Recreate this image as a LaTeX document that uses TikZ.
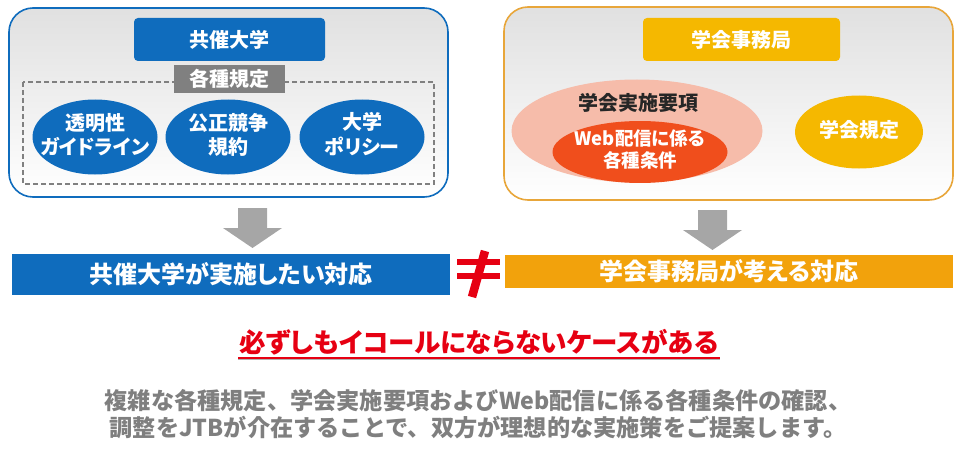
\documentclass[tikz,border=0pt]{standalone}
\usepackage{fontspec}
\setmainfont{Noto Sans CJK JP}[RawFeature=+palt]
\newfontfamily\plainjp{Noto Sans CJK JP}
\usetikzlibrary{shapes.geometric}

\definecolor{uniblue}{HTML}{0F6CBD}
\definecolor{socorange}{HTML}{E8A63A}
\definecolor{socyellow}{HTML}{F5B800}
\definecolor{socbar}{HTML}{F2A20C}
\definecolor{salmon}{HTML}{F6BCAA}
\definecolor{webred}{HTML}{F04E1C}
\definecolor{boxgray}{HTML}{808080}
\definecolor{arrowgray}{HTML}{A6A6A6}
\definecolor{neqred}{HTML}{E60012}
\definecolor{textgray}{HTML}{7F7F7F}

\newcommand{\ovaltext}[1]{\makebox[0pt]{\begin{tabular}{@{}c@{}}#1\end{tabular}}}

\begin{document}
\begin{tikzpicture}[x=1pt,y=-1pt,
	every node/.style={font=\bfseries\fontsize{20}{23}\selectfont, align=center, inner sep=0pt},
	panel/.style={rounded corners=24pt, line width=1.6pt, top color=black!12, bottom color=white},
	headbox/.style={rounded corners=4pt, text=white, minimum height=43pt},
	oval/.style={ellipse, text=white},
	bar/.style={text=white, font=\bfseries\fontsize{24}{28}\selectfont}]
			\useasboundingbox (0,0) rectangle (959,452);
			
			% university side
			\draw[panel, draw=uniblue] (9,8) rectangle (448,197);
			\node[headbox, fill=uniblue, minimum width=191pt] (unititle) at (229.5,39.5) {共催大学};
			\draw[black!50, line width=1.3pt, dash pattern=on 5pt off 3pt] (23,82) rectangle (434,184);
			\node[fill=boxgray, text=white, minimum width=111pt, minimum height=28pt] (rules) at (229.5,79) {各種規定};
			\node[oval, fill=uniblue, minimum width=125pt, minimum height=75pt] (transp) at (95,137) {\ovaltext{透明性\\ガイドライン}};
			\node[oval, fill=uniblue, minimum width=125pt, minimum height=75pt] (fair) at (228,137) {\ovaltext{公正競争\\規約}};
			\node[oval, fill=uniblue, minimum width=125pt, minimum height=75pt] (policy) at (362,137) {\ovaltext{大学\\ポリシー}};
			
			% society side
			\draw[panel, draw=socorange] (504,7) rectangle (953,200);
			\node[headbox, fill=socyellow, minimum width=197pt] (soctitle) at (741.5,39.5) {学会事務局};
			\node[ellipse, fill=salmon, minimum width=251pt, minimum height=103pt] (guide) at (637,131) {};
			\node[text=black!85] (guidelabel) at (638,103) {学会実施要項};
			\node[oval, fill=webred, minimum width=175pt, minimum height=59pt, font=\bfseries\fontsize{18.5}{20}\selectfont] (webcond) at (640,152) {\ovaltext{Web配信に係る\\各種条件}};
			\node[oval, fill=socyellow, minimum width=128pt, minimum height=73pt] (socrules) at (859,132) {\ovaltext{学会規定}};
			
			% arrows
			\foreach \cx/\ty in {252.5/208, 712.5/210}
				\fill[arrowgray] (\cx-14.5,\ty) -- (\cx+14.5,\ty) -- (\cx+14.5,\ty+20) -- (\cx+29.5,\ty+20)
					-- (\cx,\ty+40) -- (\cx-29.5,\ty+20) -- (\cx-14.5,\ty+20) -- cycle;
			
			% result bars
			\node[bar, fill=uniblue, minimum width=438pt, minimum height=41pt] (unibar) at (231,274.5) {共催大学が実施したい対応};
			\node[bar, fill=socbar, minimum width=448pt, minimum height=33pt] (socbarnode) at (729,271.5) {学会事務局が考える対応};
			
			% not equal
			\draw[neqred, line width=6pt] (457,262) -- (500,262);
			\draw[neqred, line width=6pt] (457,275.5) -- (500,275.5);
			\draw[neqred, line width=8.5pt] (485,251) -- (472,297);
			
			\node[text=neqred, font=\bfseries\fontsize{26.5}{30}\selectfont] (notequal) at (479,342) {必ずしもイコールにならないケースがある};
			\draw[black!30, line width=1pt] (238,359.3) -- (720,359.3);
			\draw[neqred, line width=1.8pt] (238,357.8) -- (720,357.8);
			
			\node[text=textgray, font=\plainjp\bfseries\fontsize{23.2}{26.5}\selectfont] (summary) at (478,414)
				{複雑な各種規定、学会実施要項およびWeb配信に係る各種条件の確認、\\調整をJTBが介在することで、双方が理想的な実施策をご提案します。};
		\end{tikzpicture}
\end{document}
